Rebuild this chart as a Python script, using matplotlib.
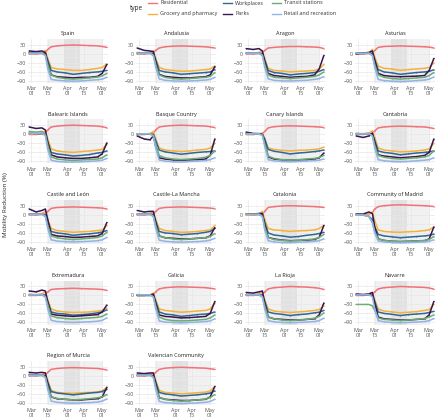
import matplotlib
matplotlib.use("Agg")
import matplotlib.pyplot as plt
import matplotlib.dates as mdates
from matplotlib.lines import Line2D
from datetime import datetime
import numpy as np

plt.rcParams['font.family'] = ['Open Sans', 'DejaVu Sans']

REGIONS = ["Spain", "Andalusia", "Aragon", "Asturias",
           "Balearic Islands", "Basque Country", "Canary Islands", "Cantabria",
           "Castile and León", "Castile-La Mancha", "Catalonia", "Community of Madrid",
           "Extremadura", "Galicia", "La Rioja", "Navarre",
           "Region of Murcia", "Valencian Community"]

DATES = ['2020-02-28', '2020-03-05', '2020-03-10', '2020-03-13', '2020-03-15', '2020-03-18',
         '2020-03-23', '2020-03-30', '2020-04-06', '2020-04-13', '2020-04-20', '2020-04-27',
         '2020-05-01', '2020-05-05']

RESIDENTIAL = {
    "Spain":               [0, 0, 2, 5, 15, 24, 27, 29, 30, 29, 28, 27, 25, 22],
    "Andalusia":           [0, 0, 2, 5, 12, 20, 24, 26, 27, 26, 25, 24, 22, 20],
    "Aragon":              [0, 0, 2, 3, 12, 20, 22, 24, 25, 25, 24, 23, 22, 18],
    "Asturias":            [0, 0, 2, 3, 12, 22, 25, 26, 27, 26, 25, 24, 23, 20],
    "Balearic Islands":    [0, 0, 2, 5, 15, 25, 28, 30, 31, 30, 29, 28, 26, 22],
    "Basque Country":      [0, 0, 2, 5, 15, 25, 28, 30, 31, 30, 29, 28, 26, 23],
    "Canary Islands":      [0, 0, 2, 3, 10, 22, 26, 28, 29, 28, 27, 26, 25, 23],
    "Cantabria":           [0, 0, 2, 3, 12, 22, 25, 27, 28, 27, 26, 25, 23, 20],
    "Castile and León":    [0, 0, 2, 3, 12, 22, 25, 26, 27, 26, 25, 24, 23, 20],
    "Castile-La Mancha":   [0, 0, 2, 3, 12, 22, 25, 26, 27, 26, 25, 24, 23, 21],
    "Catalonia":           [0, 0, 2, 3, 12, 25, 28, 30, 31, 30, 29, 28, 27, 25],
    "Community of Madrid": [0, 0, 3, 8, 20, 28, 31, 33, 34, 33, 32, 31, 30, 28],
    "Extremadura":         [0, 0, 2, 3, 12, 20, 22, 23, 24, 23, 22, 21, 20, 17],
    "Galicia":             [0, 0, 2, 3, 12, 22, 26, 28, 29, 28, 27, 26, 24, 22],
    "La Rioja":            [0, 0, 2, 3, 12, 22, 26, 28, 30, 29, 28, 26, 24, 20],
    "Navarre":             [0, 0, 2, 3, 12, 22, 26, 28, 30, 29, 28, 27, 25, 21],
    "Region of Murcia":    [0, 0, 2, 3, 12, 22, 25, 27, 28, 27, 26, 25, 23, 20],
    "Valencian Community": [0, 0, 2, 3, 12, 22, 26, 28, 29, 28, 27, 26, 24, 22],
}

GROCERY = {
    "Spain":               [3, 3, 5, 12, -15, -45, -50, -52, -55, -55, -52, -48, -45, -33],
    "Andalusia":           [5, 3, 5, 10, -15, -45, -52, -55, -58, -57, -55, -52, -50, -40],
    "Aragon":              [3, 3, 5, 10, -15, -48, -55, -57, -60, -58, -57, -55, -50, -35],
    "Asturias":            [3, 3, 5, 15, -10, -40, -48, -50, -55, -52, -50, -48, -45, -30],
    "Balearic Islands":    [3, 3, 5, 12, -15, -48, -55, -58, -60, -57, -55, -52, -50, -32],
    "Basque Country":      [0, 0, 3, 10, -15, -45, -52, -55, -57, -55, -52, -50, -45, -30],
    "Canary Islands":      [0, 0, 2, 5, -15, -45, -50, -53, -55, -53, -52, -50, -48, -42],
    "Cantabria":           [3, 3, 5, 12, -10, -45, -52, -55, -58, -57, -55, -52, -48, -30],
    "Castile and León":    [3, 3, 5, 12, -15, -45, -52, -55, -58, -56, -55, -52, -50, -35],
    "Castile-La Mancha":   [3, 3, 5, 10, -15, -45, -52, -55, -58, -57, -55, -52, -50, -35],
    "Catalonia":           [0, 0, 3, 12, -15, -45, -50, -52, -55, -53, -52, -50, -45, -35],
    "Community of Madrid": [0, 0, 3, 10, -20, -50, -55, -57, -58, -56, -55, -52, -50, -40],
    "Extremadura":         [3, 3, 5, 12, -15, -45, -52, -55, -57, -56, -55, -52, -50, -42],
    "Galicia":             [0, 0, 3, 8, -15, -45, -50, -53, -56, -54, -52, -50, -45, -25],
    "La Rioja":            [3, 3, 5, 10, -15, -45, -52, -55, -57, -55, -53, -50, -47, -35],
    "Navarre":             [3, 3, 5, 10, -15, -45, -52, -55, -58, -56, -54, -50, -47, -30],
    "Region of Murcia":    [5, 3, 5, 10, -15, -48, -55, -57, -58, -56, -55, -53, -50, -38],
    "Valencian Community": [3, 3, 5, 10, -15, -48, -55, -57, -60, -58, -56, -54, -50, -35],
}

WORKPLACES = {
    "Spain":               [5, 3, 3, 0, -20, -55, -60, -63, -68, -65, -62, -60, -58, -55],
    "Andalusia":           [3, 2, 3, 0, -20, -55, -60, -63, -68, -66, -64, -62, -60, -52],
    "Aragon":              [3, 2, 3, 0, -20, -55, -62, -65, -70, -67, -65, -62, -58, -52],
    "Asturias":            [3, 2, 3, 0, -20, -52, -60, -63, -68, -65, -62, -60, -58, -53],
    "Balearic Islands":    [5, 3, 3, 0, -25, -60, -65, -68, -72, -70, -67, -62, -60, -55],
    "Basque Country":      [2, 2, 2, 0, -20, -52, -58, -62, -66, -63, -60, -58, -57, -55],
    "Canary Islands":      [5, 3, 2, 0, -15, -50, -56, -60, -65, -62, -60, -57, -55, -52],
    "Cantabria":           [3, 2, 3, 0, -20, -55, -60, -63, -68, -65, -62, -60, -58, -55],
    "Castile and León":    [3, 2, 3, 0, -20, -55, -60, -63, -68, -65, -63, -60, -57, -52],
    "Castile-La Mancha":   [3, 2, 3, 0, -20, -55, -60, -62, -66, -64, -62, -58, -55, -45],
    "Catalonia":           [3, 2, 2, 0, -25, -60, -67, -70, -74, -72, -68, -65, -62, -58],
    "Community of Madrid": [3, 0, -5, -15, -40, -65, -70, -73, -76, -74, -72, -70, -68, -64],
    "Extremadura":         [3, 2, 3, 0, -20, -55, -60, -62, -66, -64, -62, -58, -55, -48],
    "Galicia":             [3, 2, 2, 0, -20, -55, -62, -65, -70, -67, -64, -62, -60, -55],
    "La Rioja":            [3, 2, 3, 0, -20, -55, -60, -63, -67, -64, -62, -58, -56, -50],
    "Navarre":             [3, 2, 3, 0, -20, -55, -60, -63, -67, -64, -62, -60, -57, -53],
    "Region of Murcia":    [5, 3, 3, 0, -20, -52, -57, -60, -63, -60, -57, -55, -52, -45],
    "Valencian Community": [3, 2, 3, 0, -20, -55, -60, -63, -67, -65, -63, -60, -57, -50],
}

PARKS = {
    "Spain":               [10, 8, 10, 5, -30, -70, -76, -78, -80, -78, -78, -75, -65, -35],
    "Andalusia":           [20, 12, 10, 8, -25, -68, -75, -78, -80, -80, -78, -76, -70, -42],
    "Aragon":              [18, 15, 18, 10, -25, -65, -72, -75, -78, -76, -75, -70, -50, -5],
    "Asturias":            [0, 3, 5, 10, -20, -65, -72, -75, -76, -75, -74, -72, -55, -15],
    "Balearic Islands":    [25, 20, 22, 15, -25, -68, -75, -78, -80, -80, -78, -75, -65, -28],
    "Basque Country":      [-5, -15, -18, -5, -40, -78, -82, -85, -86, -85, -84, -82, -70, -15],
    "Canary Islands":      [8, 3, 3, 0, -25, -75, -82, -85, -86, -85, -84, -82, -78, -62],
    "Cantabria":           [-5, -10, -5, 5, -25, -68, -72, -75, -78, -76, -74, -70, -60, -15],
    "Castile and León":    [20, 10, 15, 20, -15, -65, -70, -72, -75, -74, -72, -70, -62, -25],
    "Castile-La Mancha":   [15, 10, 12, 12, -25, -70, -76, -78, -80, -80, -78, -76, -70, -42],
    "Catalonia":           [3, 3, 5, 5, -30, -75, -80, -84, -86, -85, -84, -82, -75, -35],
    "Community of Madrid": [3, 3, 10, 5, -40, -80, -85, -88, -89, -88, -87, -86, -80, -40],
    "Extremadura":         [15, 12, 18, 15, -20, -62, -66, -68, -70, -68, -66, -64, -55, -32],
    "Galicia":             [0, 0, 0, 5, -25, -65, -70, -72, -75, -74, -72, -70, -60, -20],
    "La Rioja":            [10, 8, 12, 15, -25, -72, -78, -80, -82, -82, -80, -78, -65, -25],
    "Navarre":             [5, 3, 5, 10, -25, -72, -78, -80, -82, -82, -80, -78, -65, -20],
    "Region of Murcia":    [12, 10, 12, 10, -25, -70, -76, -78, -80, -80, -78, -76, -70, -38],
    "Valencian Community": [10, 8, 10, 10, -25, -72, -78, -80, -82, -82, -80, -78, -70, -35],
}

TRANSIT = {
    "Spain":               [3, 2, 2, -5, -35, -70, -78, -82, -84, -82, -80, -77, -73, -65],
    "Andalusia":           [2, 2, 2, -5, -35, -70, -78, -82, -84, -82, -80, -78, -75, -62],
    "Aragon":              [3, 2, 2, -5, -35, -70, -78, -80, -82, -80, -78, -75, -70, -60],
    "Asturias":            [3, 2, 2, -5, -35, -70, -78, -82, -84, -82, -80, -78, -72, -62],
    "Balearic Islands":    [10, 8, 10, 0, -35, -75, -82, -85, -87, -85, -84, -82, -78, -68],
    "Basque Country":      [2, 2, 2, -5, -35, -70, -78, -82, -84, -82, -80, -76, -70, -55],
    "Canary Islands":      [3, 2, 2, -3, -30, -72, -80, -84, -86, -84, -82, -80, -77, -70],
    "Cantabria":           [3, 2, 2, -5, -35, -70, -76, -80, -82, -80, -78, -75, -70, -55],
    "Castile and León":    [3, 2, 2, -5, -35, -70, -76, -80, -82, -80, -78, -75, -70, -58],
    "Castile-La Mancha":   [3, 2, 2, -5, -35, -70, -76, -80, -82, -80, -78, -76, -72, -62],
    "Catalonia":           [3, 2, 2, -5, -40, -75, -82, -85, -87, -85, -83, -80, -75, -65],
    "Community of Madrid": [2, 0, -5, -25, -55, -80, -85, -88, -89, -88, -87, -85, -82, -72],
    "Extremadura":         [3, 2, 2, -5, -30, -68, -74, -77, -79, -77, -75, -73, -70, -62],
    "Galicia":             [2, 2, 2, -5, -35, -72, -80, -84, -85, -84, -82, -80, -75, -65],
    "La Rioja":            [3, 2, 2, -5, -35, -72, -78, -82, -84, -82, -80, -76, -70, -58],
    "Navarre":             [-30, -30, -30, -35, -50, -75, -80, -82, -84, -82, -80, -77, -72, -65],
    "Region of Murcia":    [3, 2, 2, -5, -35, -70, -75, -78, -80, -78, -76, -73, -70, -62],
    "Valencian Community": [3, 2, 2, -5, -35, -72, -78, -82, -84, -82, -80, -77, -72, -62],
}

RETAIL = {
    "Spain":               [2, 2, 3, -5, -50, -85, -88, -90, -91, -90, -88, -86, -84, -78],
    "Andalusia":           [2, 2, 3, -5, -45, -83, -88, -90, -91, -90, -89, -87, -85, -78],
    "Aragon":              [2, 2, 3, -5, -45, -83, -88, -90, -90, -89, -88, -85, -82, -76],
    "Asturias":            [2, 2, 3, -5, -45, -85, -89, -91, -92, -91, -89, -87, -84, -77],
    "Balearic Islands":    [5, 3, 5, -5, -50, -86, -90, -92, -92, -91, -90, -88, -86, -80],
    "Basque Country":      [2, 2, 3, -5, -45, -85, -89, -91, -92, -90, -89, -87, -84, -78],
    "Canary Islands":      [2, 2, 2, -3, -40, -84, -88, -90, -91, -90, -89, -87, -86, -82],
    "Cantabria":           [2, 2, 3, -5, -45, -84, -88, -90, -91, -90, -88, -86, -84, -78],
    "Castile and León":    [2, 2, 3, -5, -45, -83, -87, -89, -90, -89, -88, -86, -83, -75],
    "Castile-La Mancha":   [2, 2, 3, -5, -45, -84, -88, -90, -91, -90, -89, -87, -84, -78],
    "Catalonia":           [2, 2, 3, -5, -50, -86, -90, -92, -92, -91, -90, -88, -86, -80],
    "Community of Madrid": [0, 0, -5, -25, -60, -87, -90, -92, -93, -92, -91, -90, -88, -83],
    "Extremadura":         [2, 2, 3, -5, -45, -83, -87, -89, -90, -89, -88, -86, -83, -75],
    "Galicia":             [2, 2, 2, -5, -45, -85, -89, -90, -91, -90, -89, -87, -85, -78],
    "La Rioja":            [2, 2, 3, -5, -45, -84, -88, -90, -91, -90, -89, -87, -84, -76],
    "Navarre":             [2, 2, 3, -5, -45, -84, -88, -90, -91, -90, -89, -87, -84, -77],
    "Region of Murcia":    [2, 2, 3, -5, -45, -84, -88, -90, -91, -90, -89, -87, -84, -77],
    "Valencian Community": [2, 2, 3, -5, -45, -85, -89, -91, -92, -91, -90, -88, -85, -78],
}

SERIES = [("Residential", RESIDENTIAL, "#f2727a"),
          ("Grocery and pharmacy", GROCERY, "#f6b13a"),
          ("Workplaces", WORKPLACES, "#2e6896"),
          ("Parks", PARKS, "#3a1550"),
          ("Transit stations", TRANSIT, "#6eab72"),
          ("Retail and recreation", RETAIL, "#8fb4e8")]

LIGHT_PERIOD = ('2020-03-14', '2020-05-02')
DARK_PERIOD = ('2020-03-29', '2020-04-12')
XTICKS = ['2020-03-01', '2020-03-15', '2020-04-01', '2020-04-15', '2020-05-01']
XTICK_LABELS = ["Mar\n01", "Mar\n15", "Apr\n01", "Apr\n15", "May\n01"]
YTICKS = [30, 0, -30, -60, -90]


def dn(s):
    return mdates.date2num(datetime.strptime(s, "%Y-%m-%d"))


W, H = 440, 419
fig = plt.figure(figsize=(W / 100, H / 100), dpi=100)

x = np.array([dn(d) for d in DATES])
col_left = [28, 136, 245, 355]
pw, ph = 80, 44
row_top = [39, 119.5, 200, 280.5, 361]

for i, reg in enumerate(REGIONS):
    r, c = divmod(i, 4)
    ax = fig.add_axes([col_left[c] / W, 1 - (row_top[r] + ph) / H, pw / W, ph / H])
    ax.set_facecolor("white")
    for sp in ax.spines.values():
        sp.set_visible(False)
    ax.set_xlim(dn('2020-02-27'), dn('2020-05-06'))
    ax.set_ylim(-97, 50)
    ax.axvspan(dn(LIGHT_PERIOD[0]), dn(LIGHT_PERIOD[1]), color="#dcdcdc", alpha=0.4, lw=0, zorder=1)
    ax.axvspan(dn(DARK_PERIOD[0]), dn(DARK_PERIOD[1]), color="#c4c4c4", alpha=0.35, lw=0, zorder=1)
    ax.set_yticks(YTICKS)
    ax.set_yticks([15, -15, -45, -75], minor=True)
    xt = [dn(d) for d in XTICKS]
    ax.set_xticks(xt)
    ax.set_xticks([(xt[k] + xt[k + 1]) / 2 for k in range(len(xt) - 1)], minor=True)
    ax.set_xticklabels(XTICK_LABELS)
    ax.grid(which="major", color="#e6e6e6", lw=0.5, zorder=0)
    ax.grid(which="minor", color="#f0f0f0", lw=0.3, zorder=0)
    ax.tick_params(which="both", length=0, labelsize=3.9, labelcolor="#555555", pad=1.5)
    ax.tick_params(axis="x", pad=2.2)
    for lab in ax.get_xticklabels():
        lab.set_linespacing(1.1)
    for name, data, col in SERIES:
        y = np.array(data[reg], dtype=float)
        ax.scatter(x, y, s=0.7, color=col, alpha=0.5, lw=0, zorder=2)
        ax.plot(x, y, color=col, lw=1.1, zorder=3, solid_capstyle="round")
    ax.set_title(reg, fontsize=4.0, color="#222222", pad=2.8)

fig.text(6 / W, 1 - 205 / H, "Mobility Reduction (%)", rotation=90, fontsize=4.5,
         color="#222222", ha="center", va="center")

# legend
fig.text(130 / W, 1 - 8 / H, "type", fontsize=4.7, color="#222222", ha="left", va="center")
key_x = [148, 223, 271.5]
rows_y = [3, 13.7]
for k, (name, data, col) in enumerate(SERIES):
    cc, rr = divmod(k, 2)
    yy = 1 - rows_y[rr] / H
    fig.add_artist(Line2D([key_x[cc] / W, (key_x[cc] + 9) / W], [yy, yy], color=col, lw=1.0))
    fig.text((key_x[cc] + 12) / W, yy, name, fontsize=3.9, color="#333333", ha="left", va="center")

fig.savefig("out.png", dpi=100)
